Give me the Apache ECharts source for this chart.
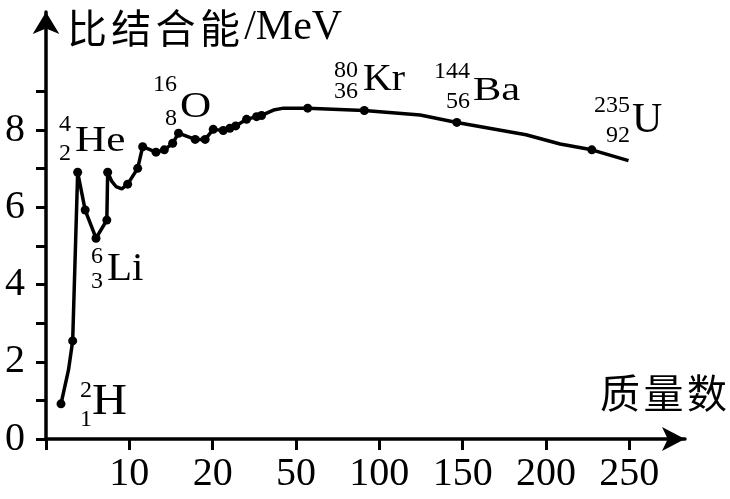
<!DOCTYPE html>
<html>
<head>
<meta charset="utf-8">
<script src="https://cdn.jsdelivr.net/npm/echarts@6/dist/echarts.min.js"></script>
<style>html,body{margin:0;padding:0;background:#fff}#c{width:730px;height:499px}</style>
</head>
<body>
<div id="c"></div>
<script>
// ---- data ----
const xTickValues = [0, 10, 20, 50, 100, 150, 200, 250];
const yTickValues = [0, 1, 2, 3, 4, 5, 6, 7, 8, 9];
const yLabelValues = [0, 2, 4, 6, 8];
const massNumber = [1.8, 2.7, 3.2, 3.8, 4.7, 6.0, 7.3, 7.4, 7.9, 8.4, 9.1, 9.8, 11.0, 11.6, 13.2, 14.2, 15.2, 15.9, 17.9, 19.1, 20.2, 23.8, 26.2, 28.3, 32.2, 35.8, 37.6, 41.9, 45.5, 57, 91, 124.5, 146.5, 188, 208.5, 227.5, 249.5];
const bindingEnergy = [0.91, 1.79, 2.54, 6.91, 5.93, 5.20, 5.67, 6.91, 6.67, 6.54, 6.48, 6.60, 7.01, 7.57, 7.43, 7.49, 7.66, 7.92, 7.76, 7.76, 8.02, 7.99, 8.05, 8.11, 8.28, 8.35, 8.38, 8.52, 8.57, 8.57, 8.51, 8.39, 8.20, 7.88, 7.64, 7.49, 7.21];
const marked = [1, 0, 1, 1, 1, 1, 1, 1, 0, 0, 0, 1, 1, 1, 1, 1, 1, 1, 1, 1, 1, 1, 1, 1, 1, 1, 1, 0, 0, 1, 1, 0, 1, 0, 0, 1, 0];
const nuclideSymbol = ['H', 'He', 'Li', 'O', 'Kr', 'Ba', 'U'];
const nuclideMass = ['2', '4', '6', '16', '80', '144', '235'];
const nuclideCharge = ['1', '2', '3', '8', '36', '56', '92'];
const yAxisName = '比结合能/MeV';
const xAxisName = '质量数';

// ---- layout / style ----
const SERIF = "'Liberation Serif','Times New Roman',serif";
const CJK = "'Noto Sans CJK SC','Noto Sans CJK JP',sans-serif";
const labelLayout = [
  {x: 92,  cy: 402.5, size: 44, sx: 1.1,  ir: 92,  supCy: 391,  subCy: 419.5},
  {x: 75,  cy: 142,   size: 36, sx: 1.2,  ir: 71,  supCy: 125,  subCy: 153.5},
  {x: 107, cy: 269,   size: 41, sx: 1.0,  ir: 103, supCy: 257,  subCy: 282},
  {x: 180, cy: 108,   size: 36, sx: 1.2,  ir: 177, supCy: 85,   subCy: 118.5},
  {x: 363, cy: 80,    size: 37, sx: 1.08, ir: 358, supCy: 70.5, subCy: 92},
  {x: 473, cy: 91,    size: 34, sx: 1.25, ir: 470, supCy: 71.5, subCy: 101.5},
  {x: 632, cy: 121,   size: 42, sx: 1.0,  ir: 630, supCy: 106,  subCy: 136}
];

// piecewise axis: each labelled value is one equal step
function toPos(a) {
  for (let i = 1; i < xTickValues.length; i++) {
    if (a <= xTickValues[i] || i === xTickValues.length - 1) {
      const a0 = xTickValues[i - 1], a1 = xTickValues[i];
      return (i - 1) + (a - a0) / (a1 - a0);
    }
  }
}
function richName(s) {
  let out = '', latin = '';
  for (const ch of s) {
    if (/[\u3400-\u9fff]/.test(ch)) {
      if (latin) { out += '{l|' + latin + '}'; latin = ''; }
      out += '{c|' + ch + '}';
    } else latin += ch;
  }
  if (latin) out += '{l|' + latin + '}';
  return out;
}

const seriesData = massNumber.map((a, i) => ({
  value: [toPos(a), bindingEnergy[i]],
  symbol: marked[i] ? 'circle' : 'none'
}));

const graphics = [];
nuclideSymbol.forEach((sym, i) => {
  const L = labelLayout[i];
  graphics.push({type: 'text', x: L.x, y: L.cy, scaleX: L.sx,
    style: {text: sym, fontFamily: SERIF, fontSize: L.size, fill: '#000', align: 'left', verticalAlign: 'middle'}});
  graphics.push({type: 'text', x: L.ir, y: L.supCy,
    style: {text: nuclideMass[i], fontFamily: SERIF, fontSize: 24, fill: '#000', align: 'right', verticalAlign: 'middle'}});
  graphics.push({type: 'text', x: L.ir, y: L.subCy,
    style: {text: nuclideCharge[i], fontFamily: SERIF, fontSize: 24, fill: '#000', align: 'right', verticalAlign: 'middle'}});
});

const xPosTicks = xTickValues.map((v, i) => i);
const chart = echarts.init(document.getElementById('c'), null, {renderer: 'canvas'});
chart.setOption({
  animation: false,
  backgroundColor: '#fff',
  grid: {left: 46, right: 45, top: 12, bottom: 60, containLabel: false},
  xAxis: {
    type: 'value', min: 0, max: 7.668,
    name: richName(xAxisName), nameLocation: 'end', nameGap: 42, nameMoveOverlap: false,
    nameTextStyle: {align: 'right', verticalAlign: 'bottom', padding: [0, 0, 26, 0],
      rich: {c: {fontFamily: CJK, fontSize: 40, width: 43.5, color: '#000'}, l: {fontFamily: SERIF, fontSize: 40, color: '#000'}}},
    axisLine: {show: true, onZero: false, symbol: ['none', 'arrow'], symbolSize: [18, 23], lineStyle: {color: '#000', width: 3.5}},
    axisTick: {show: true, inside: false, length: 11, customValues: xPosTicks, lineStyle: {color: '#000', width: 3}},
    axisLabel: {show: true, customValues: xPosTicks.slice(1), margin: 15, color: '#000', fontFamily: SERIF, fontSize: 40,
      formatter: v => String(xTickValues[Math.round(v)])},
    splitLine: {show: false}
  },
  yAxis: {
    type: 'value', min: 0, max: 11.06,
    name: richName(yAxisName), nameLocation: 'end', nameGap: -16, nameMoveOverlap: false,
    nameTextStyle: {align: 'left', verticalAlign: 'middle', padding: [0, 0, 0, 21],
      rich: {c: {fontFamily: CJK, fontSize: 40, width: 44.3, color: '#000'}, l: {fontFamily: SERIF, fontSize: 42, color: '#000'}}},
    axisLine: {show: true, onZero: false, symbol: ['none', 'arrow'], symbolSize: [20, 22], lineStyle: {color: '#000', width: 3.5}},
    axisTick: {show: true, inside: false, length: 10, customValues: yTickValues, lineStyle: {color: '#000', width: 3}},
    axisLabel: {show: true, customValues: yLabelValues, margin: 21, color: '#000', fontFamily: SERIF, fontSize: 40},
    splitLine: {show: false}
  },
  series: [{
    type: 'line', data: seriesData, smooth: false, showAllSymbol: true,
    symbolSize: 9, itemStyle: {color: '#000'},
    lineStyle: {color: '#000', width: 3.5}, clip: false, z: 3
  }],
  graphic: graphics
});
</script>
</body>
</html>
